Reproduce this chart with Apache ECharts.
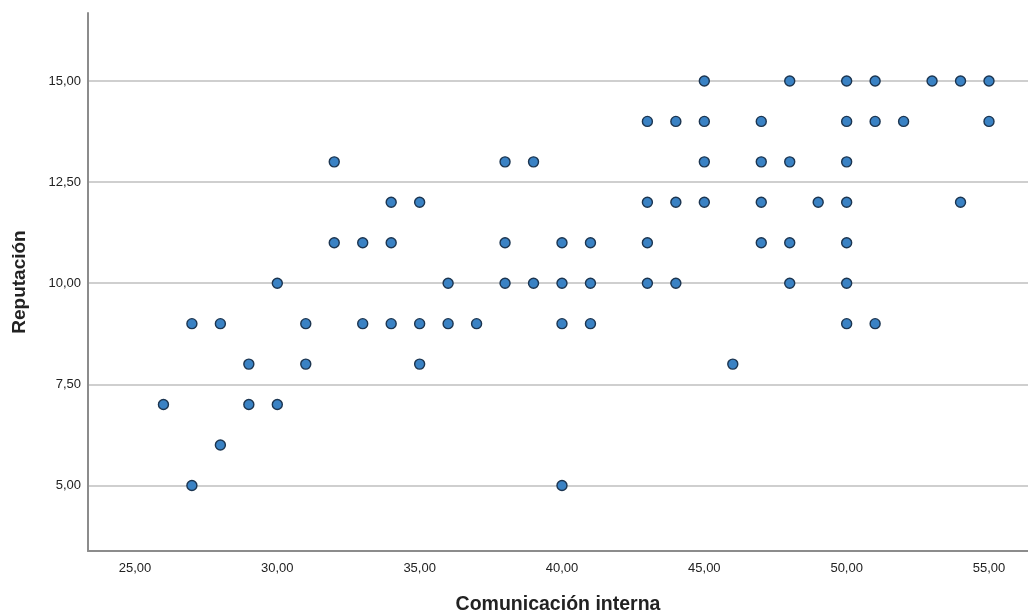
<!DOCTYPE html>
<html>
<head>
<meta charset="utf-8">
<script src="https://cdn.jsdelivr.net/npm/echarts@6/dist/echarts.min.js"></script>
<style>
html,body{margin:0;padding:0;background:#fff;}
#chart{width:1028px;height:613px;}
</style>
</head>
<body>
<div id="chart"></div>
<script>
// Data: Comunicación interna (x) vs Reputación (y)
var xValues = [
  45,48,50,51,53,54,55,
  43,44,45,47,50,51,52,55,
  32,38,39,45,47,48,50,
  34,35,43,44,45,47,49,50,54,
  32,33,34,38,40,41,43,47,48,50,
  30,36,38,39,40,41,43,44,48,50,
  27,28,31,33,34,35,36,37,40,41,50,51,
  29,31,35,46,
  26,29,30,
  28,
  27,40
];
var yValues = [
  15,15,15,15,15,15,15,
  14,14,14,14,14,14,14,14,
  13,13,13,13,13,13,13,
  12,12,12,12,12,12,12,12,12,
  11,11,11,11,11,11,11,11,11,11,
  10,10,10,10,10,10,10,10,10,10,
  9,9,9,9,9,9,9,9,9,9,9,9,
  8,8,8,8,
  7,7,7,
  6,
  5,5
];
var xTickValues = [25,30,35,40,45,50,55];
var yTickValues = [5,7.5,10,12.5,15];

var points = xValues.map(function(x,i){return [x, yValues[i]];});

function fmt(v){ return v.toFixed(2).replace('.', ','); }
function isTick(list, v){
  for (var i=0;i<list.length;i++){ if (Math.abs(list[i]-v) < 1e-6) return true; }
  return false;
}

var chart = echarts.init(document.getElementById('chart'), null, {renderer:'canvas'});
chart.setOption({
  backgroundColor:'#ffffff',
  animation:false,
  grid:{left:88, right:0, top:13, bottom:62, containLabel:false, outerBoundsMode:'none'},
  xAxis:{
    type:'value',
    min:23.35, max:56.37,
    minInterval:5, maxInterval:5,
    name:'Comunicación interna',
    nameLocation:'middle',
    nameGap:44,
    nameTextStyle:{fontFamily:'Liberation Sans, Arial, sans-serif', fontSize:19.5, fontWeight:'bold', color:'#222'},
    axisLine:{show:true, lineStyle:{color:'#8c8c8c', width:2}},
    axisTick:{show:false},
    splitLine:{show:false},
    axisLabel:{
      showMinLabel:false, showMaxLabel:false,
      margin:11,
      fontFamily:'Liberation Sans, Arial, sans-serif', fontSize:13, color:'#222',
      formatter:function(v){ return isTick(xTickValues, v) ? fmt(v) : ''; }
    }
  },
  yAxis:{
    type:'value',
    min:3.38, max:16.68,
    minInterval:2.5, maxInterval:2.5,
    name:'Reputación',
    nameLocation:'middle',
    nameGap:59,
    nameRotate:90,
    nameTextStyle:{fontFamily:'Liberation Sans, Arial, sans-serif', fontSize:19, fontWeight:'bold', color:'#222'},
    axisLine:{show:true, lineStyle:{color:'#8c8c8c', width:2}},
    axisTick:{show:false},
    splitLine:{show:true, showMinLine:false, showMaxLine:false, lineStyle:{color:'#cfcfcf', width:2}},
    axisLabel:{
      showMinLabel:false, showMaxLabel:false,
      margin:7,
      fontFamily:'Liberation Sans, Arial, sans-serif', fontSize:13, color:'#222',
      formatter:function(v){ return isTick(yTickValues, v) ? fmt(v) : ''; }
    }
  },
  series:[{
    type:'scatter',
    data:points,
    symbol:'circle',
    symbolSize:10,
    itemStyle:{color:'#3a82c4', borderColor:'#1c3550', borderWidth:1.4, opacity:1},
    emphasis:{disabled:true}
  }]
});
</script>
</body>
</html>
